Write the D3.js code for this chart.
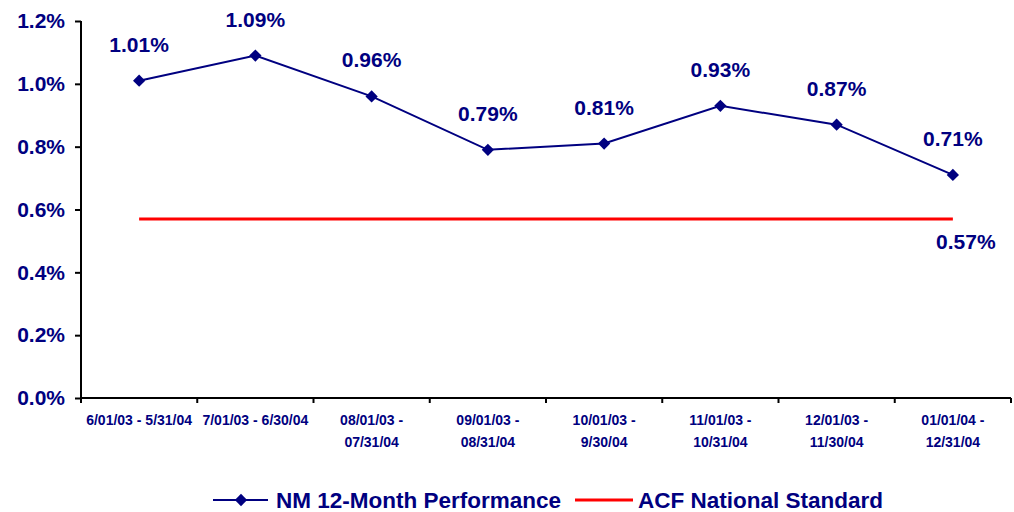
<!DOCTYPE html>
<html>
<head>
<meta charset="utf-8">
<script src="https://cdn.jsdelivr.net/npm/d3@7"></script>
<style>
  html,body{margin:0;padding:0;background:#fff;}
  svg{display:block;font-family:"Liberation Sans",Arial,sans-serif;font-weight:bold;}
</style>
</head>
<body>
<div id="chart"></div>
<script>
// periods (x categories), one label line per entry
var periods=["P1","P2","P3","P4","P5","P6","P7","P8"];
var periodLabels=[
  ["6/01/03 - 5/31/04"],
  ["7/01/03 - 6/30/04"],
  ["08/01/03 -","07/31/04"],
  ["09/01/03 -","08/31/04"],
  ["10/01/03 -","9/30/04"],
  ["11/01/03 -","10/31/04"],
  ["12/01/03 -","11/30/04"],
  ["01/01/04 -","12/31/04"]
];
var nmPerformance=[1.01,1.09,0.96,0.79,0.81,0.93,0.87,0.71];
var acfStandard=0.57;
var yTicks=[0,0.2,0.4,0.6,0.8,1.0,1.2];

var W=1014,H=512, navy="#000080", red="#ff0000";
var svg=d3.select("#chart").append("svg").attr("width",W).attr("height",H);

var x=d3.scaleBand().domain(periods).range([81,1011]);
var y=d3.scaleLinear().domain([0,1.2]).range([398,21]);
var cx=function(p){return x(p)+x.bandwidth()/2;};

// y axis
var ya=svg.append("g").attr("transform","translate(81,0)")
  .call(d3.axisLeft(y).tickValues(yTicks).tickSize(6).tickPadding(10).tickFormat(function(d){return d.toFixed(1)+"%";}));
ya.select(".domain").attr("stroke","#000").attr("stroke-width",2).attr("d","M0,"+y(1.2)+"V"+y(0));
ya.selectAll(".tick line").attr("stroke","#000").attr("stroke-width",2);
ya.selectAll(".tick text").attr("fill",navy).style("font-size","21px").style("font-weight","bold");

// x axis (ticks at category boundaries)
var xa=svg.append("g").attr("transform","translate(0,"+y(0)+")");
xa.append("line").attr("x1",x.range()[0]).attr("x2",x.range()[1]).attr("stroke","#000").attr("stroke-width",2);
var edges=periods.map(function(p){return x(p);}).concat([x.range()[1]]);
xa.selectAll("line.tk").data(edges).enter().append("line").attr("class","tk")
  .attr("x1",function(d){return d;}).attr("x2",function(d){return d;}).attr("y1",0).attr("y2",5)
  .attr("stroke","#000").attr("stroke-width",2);
var xl=xa.selectAll("text.xl").data(periods).enter().append("text").attr("class","xl")
  .attr("x",function(p){return cx(p);}).attr("y",27).attr("text-anchor","middle")
  .attr("fill",navy).style("font-size","14px");
xl.each(function(p,i){
  var t=d3.select(this);
  periodLabels[i].forEach(function(s,j){
    t.append("tspan").attr("x",cx(p)).attr("dy",j?22:0).text(s);
  });
});

// national standard line
svg.append("line").attr("x1",cx(periods[0])).attr("x2",cx(periods[periods.length-1]))
  .attr("y1",y(acfStandard)).attr("y2",y(acfStandard)).attr("stroke",red).attr("stroke-width",3);
svg.append("text").attr("x",cx(periods[periods.length-1])+13).attr("y",y(acfStandard)+30)
  .attr("text-anchor","middle").attr("fill",navy).style("font-size","21px").text(acfStandard.toFixed(2)+"%");

// performance line
var pts=periods.map(function(p,i){return {p:p,v:nmPerformance[i]};});
var line=d3.line().x(function(d){return cx(d.p);}).y(function(d){return y(d.v);});
svg.append("path").datum(pts).attr("fill","none").attr("stroke",navy).attr("stroke-width",2).attr("d",line);
var diamond=d3.symbol().type(d3.symbolDiamond2).size(96);
svg.selectAll("path.mk").data(pts).enter().append("path").attr("class","mk")
  .attr("transform",function(d){return "translate("+cx(d.p)+","+y(d.v)+")";})
  .attr("d",diamond).attr("fill",navy);
svg.selectAll("text.vl").data(pts).enter().append("text").attr("class","vl")
  .attr("x",function(d){return cx(d.p);}).attr("y",function(d){return y(d.v)-29;})
  .attr("text-anchor","middle").attr("fill",navy).style("font-size","21px")
  .text(function(d){return d.v.toFixed(2)+"%";});

// legend
var lg=svg.append("g").attr("transform","translate(0,500)");
lg.append("line").attr("x1",213).attr("x2",268).attr("y1",0).attr("y2",0).attr("stroke",navy).attr("stroke-width",2);
lg.append("path").attr("transform","translate(241,0)").attr("d",diamond).attr("fill",navy);
lg.append("text").attr("x",276).attr("y",8).attr("fill",navy).style("font-size","22.5px").text("NM 12-Month Performance");
lg.append("line").attr("x1",575).attr("x2",633).attr("y1",0).attr("y2",0).attr("stroke",red).attr("stroke-width",3);
lg.append("text").attr("x",638).attr("y",8).attr("fill",navy).style("font-size","22.5px").text("ACF National Standard");
</script>
</body>
</html>
